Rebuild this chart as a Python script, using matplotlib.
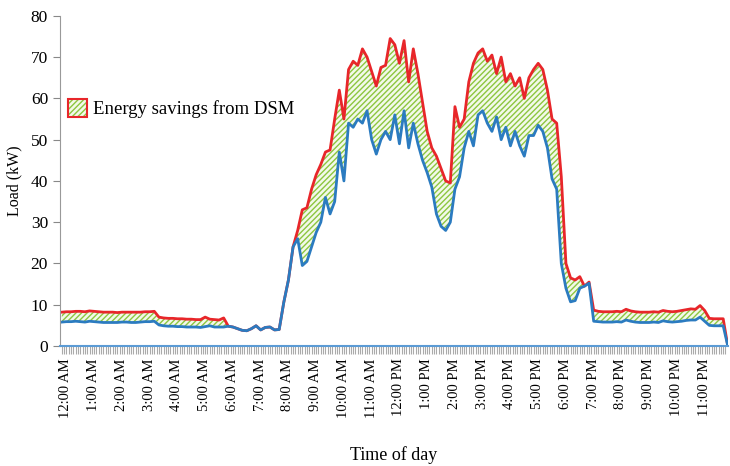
import numpy as np
import matplotlib
matplotlib.use("Agg")
import matplotlib.pyplot as plt
import matplotlib.transforms as mtransforms
from matplotlib.patches import Patch

plt.rcParams["font.family"] = ["Liberation Serif", "DejaVu Serif"]
plt.rcParams["hatch.linewidth"] = 1.0

# load readings every 10 minutes, plus the closing sample at midnight
step_min = 10
load_base = [
    8.2, 8.3, 8.3, 8.4, 8.4, 8.3, 8.5, 8.4, 8.3, 8.2, 8.2, 8.2,
    8.1, 8.2, 8.2, 8.2, 8.2, 8.2, 8.3, 8.3, 8.4, 7.0, 6.8, 6.7,
    6.7, 6.6, 6.6, 6.5, 6.5, 6.4, 6.4, 7.0, 6.5, 6.4, 6.3, 6.8,
    4.8, 4.6, 4.2, 3.8, 3.7, 4.2, 4.9, 3.9, 4.5, 4.6, 3.9, 4.0,
    10.6, 16.0, 24.0, 28.0, 33.0, 33.5, 38.0, 41.5, 44.0, 47.0, 47.5, 55.0,
    62.0, 55.0, 67.0, 69.0, 68.0, 72.0, 70.0, 66.5, 63.0, 67.5, 68.0, 74.5,
    73.0, 68.5, 74.0, 64.0, 72.0, 66.0, 59.0, 52.0, 48.0, 46.0, 43.0, 40.0,
    39.5, 58.0, 53.0, 55.0, 64.0, 68.5, 71.0, 72.0, 69.0, 70.5, 66.0, 70.0,
    64.0, 66.0, 63.0, 65.0, 60.0, 65.0, 67.0, 68.5, 67.0, 62.0, 55.0, 54.0,
    41.0, 20.0, 16.5, 16.0, 16.8, 14.5, 15.5, 8.7, 8.4, 8.3, 8.3, 8.3,
    8.4, 8.3, 8.9, 8.5, 8.3, 8.2, 8.2, 8.2, 8.3, 8.2, 8.6, 8.4,
    8.3, 8.4, 8.6, 8.8, 9.0, 8.9, 9.8, 8.6, 6.7, 6.6, 6.6, 6.6,
    0.0,
]
load_dsm = [
    5.8, 5.9, 5.9, 6.0, 5.9, 5.8, 6.0, 5.9, 5.8, 5.7, 5.7, 5.7,
    5.7, 5.8, 5.8, 5.7, 5.7, 5.8, 5.9, 5.9, 6.0, 5.1, 4.9, 4.8,
    4.8, 4.7, 4.7, 4.6, 4.6, 4.6, 4.5, 4.7, 4.9, 4.6, 4.6, 4.6,
    4.8, 4.6, 4.2, 3.8, 3.7, 4.2, 4.9, 3.9, 4.5, 4.6, 3.9, 4.0,
    10.6, 16.0, 24.0, 26.0, 19.5, 20.5, 24.0, 27.5, 30.0, 36.0, 32.0, 35.0,
    47.0, 40.0, 54.0, 53.0, 55.0, 54.0, 57.0, 50.0, 46.5, 50.0, 52.0, 50.0,
    56.0, 49.0, 57.0, 48.0, 54.0, 49.0, 45.0, 42.0, 38.5, 32.0, 29.0, 28.0,
    30.0, 38.0, 41.0, 48.0, 52.0, 48.5, 56.0, 57.0, 54.0, 52.0, 55.5, 50.0,
    53.0, 48.5, 52.0, 48.5, 46.0, 51.0, 51.0, 53.5, 52.0, 48.0, 40.5, 38.0,
    20.0, 14.0, 10.7, 11.0, 14.0, 14.5, 15.2, 6.0, 5.9, 5.8, 5.8, 5.8,
    5.9, 5.8, 6.3, 6.0, 5.8, 5.7, 5.7, 5.7, 5.8, 5.7, 6.1, 5.9,
    5.8, 5.9, 6.0, 6.2, 6.3, 6.3, 7.0, 6.0, 5.0, 4.9, 4.9, 4.9,
    0.0,
]
hour_labels = ["12:00 AM"] + ["%d:00 AM" % h for h in range(1, 12)] + \
              ["12:00 PM"] + ["%d:00 PM" % h for h in range(1, 12)]

hours = np.arange(len(load_base)) * step_min / 60.0

fig = plt.figure(figsize=(7.3, 4.66), dpi=100)
ax = fig.add_axes([0.082, 0.2575, 0.915, 0.7085])

ax.fill_between(hours, load_dsm, load_base, facecolor="#f3f9ea",
                edgecolor="#8dc63f", hatch="//////", linewidth=0)
ax.plot(hours, load_base, color="#e8262a", lw=2)
ax.plot(hours, load_dsm, color="#2b7bc0", lw=2)

ax.set_xlim(-0.07, 24)
ax.set_ylim(0, 80)
ax.set_yticks(range(0, 81, 10))
ax.set_xticks(range(24))
ax.set_xticklabels(hour_labels, rotation=90, fontsize=10.5)
ax.set_xticks(np.arange(0, 24, 1 / 12), minor=True)
ax.tick_params(axis="x", which="both", length=6, width=0.8, color="#aaaaaa",
               pad=3)
ax.tick_params(axis="y", length=5, color="#888888", labelsize=12.5)

# hour labels sit a little right of their ticks
shift = mtransforms.ScaledTranslation(4 / 100, 0, fig.dpi_scale_trans)
for lbl in ax.get_xticklabels():
    lbl.set_transform(lbl.get_transform() + shift)

for side in ("top", "right"):
    ax.spines[side].set_visible(False)
ax.spines["left"].set_color("#999999")
ax.spines["bottom"].set_color("#5b9bd5")
ax.spines["bottom"].set_linewidth(1.5)

ax.set_ylabel("Load (kW)", fontsize=11.5, labelpad=6)
ax.set_xlabel("Time of day", fontsize=13, labelpad=20)

hatch_patch = Patch(facecolor="#f3f9ea", edgecolor="#8dc63f", hatch="//////",
                    linewidth=0)
edge_patch = Patch(facecolor="none", edgecolor="#e8262a", linewidth=1.5)
ax.legend([(hatch_patch, edge_patch)], ["Energy savings from DSM"],
          loc="upper left", bbox_to_anchor=(0.012, 0.748), frameon=False,
          fontsize=13.5, handlelength=1.0, handleheight=1.1, handletextpad=0.35,
          borderpad=0, borderaxespad=0)

fig.savefig("out.png", dpi=100)
